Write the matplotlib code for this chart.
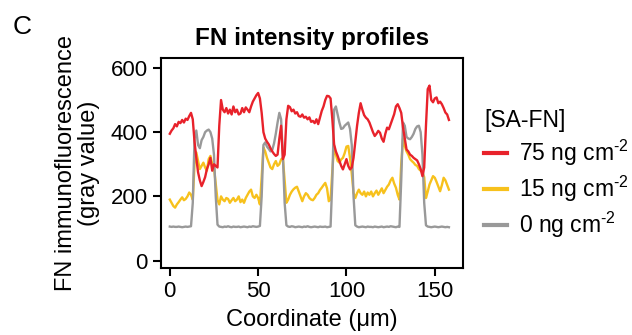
import numpy as np
import matplotlib
matplotlib.use("Agg")
import matplotlib.pyplot as plt

plt.rcParams["font.family"] = ["Liberation Sans", "DejaVu Sans"]
plt.rcParams["mathtext.fontset"] = "custom"
plt.rcParams["mathtext.rm"] = "Liberation Sans"
plt.rcParams["mathtext.it"] = "Liberation Sans:italic"
plt.rcParams["mathtext.default"] = "regular"

# coordinate along the line scan (um)
coord = np.arange(0, 159)

# 75 ng cm-2
fn_75 = [395, 405, 412, 425, 418, 432, 428, 438, 430, 442, 438, 450, 460, 440, 370, 320,
         275, 250, 232, 245, 260, 285, 300, 320, 280, 300, 295, 290, 420, 500, 470, 462,
         475, 458, 470, 455, 480, 462, 470, 455, 458, 475, 462, 477, 470, 462, 480, 495,
         505, 515, 522, 505, 460, 400, 380, 370, 362, 350, 340, 332, 326, 330, 380, 420,
         316, 330, 440, 482, 478, 465, 470, 458, 462, 450, 448, 455, 445, 448, 440, 446,
         432, 435, 428, 440, 425, 445, 466, 480, 500, 513, 512, 505, 440, 362, 340, 326,
         310, 295, 284, 300, 316, 295, 284, 290, 320, 370, 420, 460, 490, 470, 453, 445,
         440, 430, 415, 400, 388, 395, 404, 398, 380, 370, 395, 414, 409, 425, 440, 456,
         480, 487, 475, 460, 415, 380, 346, 340, 330, 326, 320, 316, 312, 300, 285, 263,
         290, 420, 534, 545, 500, 493, 505, 508, 490, 495, 487, 475, 461, 455, 438]

# 15 ng cm-2
fn_15 = [190, 180, 170, 165, 175, 182, 190, 197, 188, 192, 200, 212, 205, 190, 300, 337,
         310, 285, 295, 305, 290, 280, 316, 326, 300, 290, 240, 189, 175, 200, 190, 185,
         195, 192, 180, 188, 195, 185, 190, 200, 182, 190, 180, 195, 205, 215, 221, 200,
         195, 205, 195, 175, 260, 352, 340, 320, 305, 290, 285, 300, 310, 295, 300, 315,
         320, 250, 180, 190, 205, 215, 222, 227, 230, 215, 200, 185, 200, 210, 205, 195,
         190, 188, 195, 205, 210, 220, 227, 235, 242, 225, 185, 190, 280, 357, 330, 310,
         305, 315, 320, 335, 355, 357, 320, 270, 211, 195, 210, 221, 210, 205, 215, 200,
         212, 205, 215, 200, 210, 218, 205, 215, 225, 210, 220, 230, 237, 250, 258, 240,
         227, 205, 190, 300, 380, 357, 340, 330, 316, 310, 305, 298, 295, 285, 280, 275,
         260, 195, 215, 237, 250, 263, 258, 245, 230, 216, 235, 258, 250, 235, 221]

# 0 ng cm-2
fn_0 = [106, 105, 106, 105, 105, 106, 105, 104, 105, 106, 105, 106, 107,
        180, 380, 405, 360, 350, 375, 385, 400, 405, 408, 400, 380, 330, 200, 112,
        106, 105, 104, 106, 105, 107, 105, 104, 106, 105, 105, 106, 104, 105, 106, 105,
        104, 106, 105, 107, 106, 105, 106, 108,
        200, 360, 368, 355, 348, 340, 345, 365, 395, 430, 460, 440, 330, 180, 110,
        106, 105, 107, 106, 104, 105, 106, 105, 104, 106, 105, 107, 105, 104, 105, 106,
        105, 104, 106, 105, 105, 106, 104, 105, 106,
        250, 470, 480, 455, 430, 410, 412, 420, 425, 430, 410, 360, 200, 110,
        106, 104, 105, 106, 105, 104, 106, 105, 105, 104, 106, 105, 104, 105, 106, 104,
        105, 106, 105, 107, 106, 105, 104, 106, 105,
        250, 430, 420, 385, 380, 378, 385, 395, 410, 418, 420, 400, 330, 180, 110,
        106, 105, 104, 105, 106, 105, 104, 105, 106, 105, 104, 105, 104]

labels = [r"75 ng cm$^{\text{-2}}$", r"15 ng cm$^{\text{-2}}$", r"0 ng cm$^{\text{-2}}$"]
colors = ["#e8222b", "#f7c11c", "#999999"]

fig = plt.figure(figsize=(6.32, 3.35), dpi=100)
ax = fig.add_axes([0.2547, 0.2, 0.478, 0.627])

h_yel, = ax.plot(coord, fn_15, color=colors[1], lw=1.7)
h_gry, = ax.plot(coord, fn_0, color=colors[2], lw=1.7)
h_red, = ax.plot(coord, fn_75, color=colors[0], lw=1.7)

ax.set_xlim(-5, 166)
ax.set_ylim(-23, 631)
ax.set_xticks([0, 50, 100, 150])
ax.set_yticks([0, 200, 400, 600])
for s in ax.spines.values():
    s.set_linewidth(1.5)
ax.tick_params(labelsize=16, width=1.5, length=6, pad=3.5)

ax.set_title("FN intensity profiles", fontsize=17.5, fontweight="bold", pad=9)
ax.set_xlabel("Coordinate (μm)", fontsize=17, labelpad=5)
ax.set_ylabel("FN immunofluorescence\n(gray value)", fontsize=17, labelpad=8,
              linespacing=1.05)

leg = ax.legend([h_red, h_yel, h_gry], labels, title="[SA-FN]", frameon=False,
                loc="upper left", bbox_to_anchor=(1.04, 0.80), fontsize=16.5,
                title_fontsize=16.5, handlelength=1.0, handletextpad=0.5,
                labelspacing=0.25, borderaxespad=0, alignment="left")
for ln in leg.get_lines():
    ln.set_linewidth(3)

fig.text(0.02, 0.955, "C", fontsize=19, va="top", ha="left")

fig.savefig("out.png", dpi=100)
